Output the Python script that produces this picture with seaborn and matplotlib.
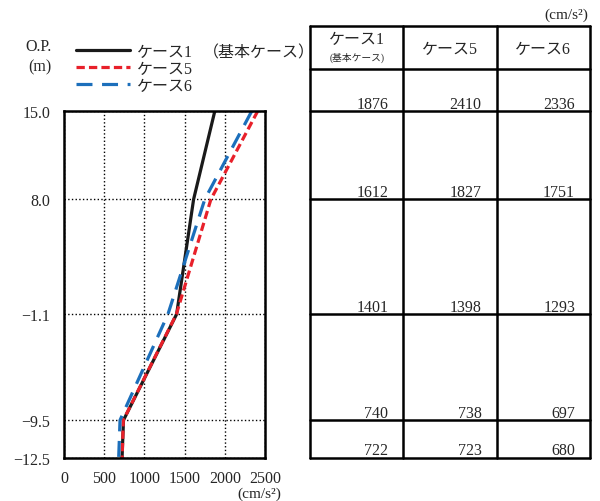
import matplotlib
matplotlib.use('Agg')
import matplotlib.pyplot as plt
import pandas as pd
import seaborn as sns

# elevations (O.P. m) and peak acceleration per case (cm/s2)
elev = [15.0, 8.0, -1.1, -9.5, -12.5]
elev_labels = ['15.0', '8.0', '-1.1', '-9.5', '-12.5']
case1 = [1876, 1612, 1401, 740, 722]
case5 = [2410, 1827, 1398, 738, 723]
case6 = [2336, 1751, 1293, 697, 680]
case_names = ['ケース1', 'ケース5', 'ケース6']
x_ticks = [0, 500, 1000, 1500, 2000, 2500]

sns.set_style('white')
plt.rcParams['font.family'] = ['Liberation Serif', 'Noto Sans CJK JP']
plt.rcParams['axes.unicode_minus'] = True

W, H = 600, 502
fig = plt.figure(figsize=(6, 5.02), dpi=100)

def frac(left, top, right, bottom):
    return [left / W, 1 - bottom / H, (right - left) / W, (bottom - top) / H]

ax = fig.add_axes(frac(64, 112, 265, 459))

df = pd.DataFrame({'elev': elev, 'case1': case1, 'case5': case5, 'case6': case6})
sns.lineplot(data=df, x='case1', y='elev', sort=False, color='#1a1a1a', lw=2.3,
             label=case_names[0], ax=ax, legend=False)
sns.lineplot(data=df, x='case5', y='elev', sort=False, color='#e8202a', lw=2.3,
             dashes=(2.6, 1.3), label=case_names[1], ax=ax, legend=False)
sns.lineplot(data=df, x='case6', y='elev', sort=False, color='#1c6fbb', lw=2.3,
             dashes=(5, 3), label=case_names[2], ax=ax, legend=False)

ax.set_xlim(0, 2500)
ax.set_ylim(elev[-1], elev[0])
ax.set_xticks(x_ticks)
ax.set_yticks(elev)
ax.set_yticklabels([l.replace('-', '\u2212') for l in elev_labels])
ax.tick_params(length=0, labelsize=11.5)
ax.tick_params(axis='y', pad=10)
ax.tick_params(axis='x', pad=9)
ax.grid(True, color='black', linestyle=':', lw=1)
ax.set_xlabel('')
ax.set_ylabel('')
for s in ax.spines.values():
    s.set_color('black')
    s.set_linewidth(1.8)

fig.text(259 / W, 1 - 494 / H, '(cm/s²)', ha='center', va='center', fontsize=11)
fig.text(38 / W, 1 - 47 / H, 'O.P.', ha='center', va='center', fontsize=11.5)
fig.text(40 / W, 1 - 67 / H, '(m)', ha='center', va='center', fontsize=11.5)

h, l = ax.get_legend_handles_labels()
fig.legend(h, l, loc='upper left', bbox_to_anchor=(76 / W, 1 - 45 / H),
           frameon=False, fontsize=11.5, handlelength=3.4, handletextpad=0.4,
           labelspacing=0.05, borderpad=0, borderaxespad=0)
fig.text(203 / W, 1 - 53 / H, '（基本ケース）', ha='left', va='center', fontsize=11.5)

# table aligned with elevation scale
tab = fig.add_axes(frac(310, 27, 590, 459))
top_y = 21.75
head_y = 18.33
tab.set_xlim(0, 3)
tab.set_ylim(elev[-1], top_y)
tab.axis('off')
for yv in [top_y, head_y] + elev:
    tab.plot([0, 3], [yv, yv], color='black', lw=1.8, clip_on=False)
for xv in range(4):
    tab.plot([xv, xv], [elev[-1], top_y], color='black', lw=1.8, clip_on=False)

head_mid = (top_y + head_y) / 2
tab.text(0.5, head_mid + 0.65, case_names[0], ha='center', va='center', fontsize=11.5)
tab.text(0.5, head_mid - 0.75, '(基本ケース)', ha='center', va='center', fontsize=7)
for i in (1, 2):
    tab.text(i + 0.5, head_mid - 0.1, case_names[i], ha='center', va='center', fontsize=11.5)

for i, vals in enumerate([case1, case5, case6]):
    for yv, v in zip(elev, vals):
        tab.text(i + 0.84, yv + 0.28, f'{v}', ha='right', va='baseline', fontsize=11.5)

fig.text(588 / W, 1 - 15 / H, '(cm/s²)', ha='right', va='center', fontsize=11)

fig.savefig('out.png', dpi=100)
